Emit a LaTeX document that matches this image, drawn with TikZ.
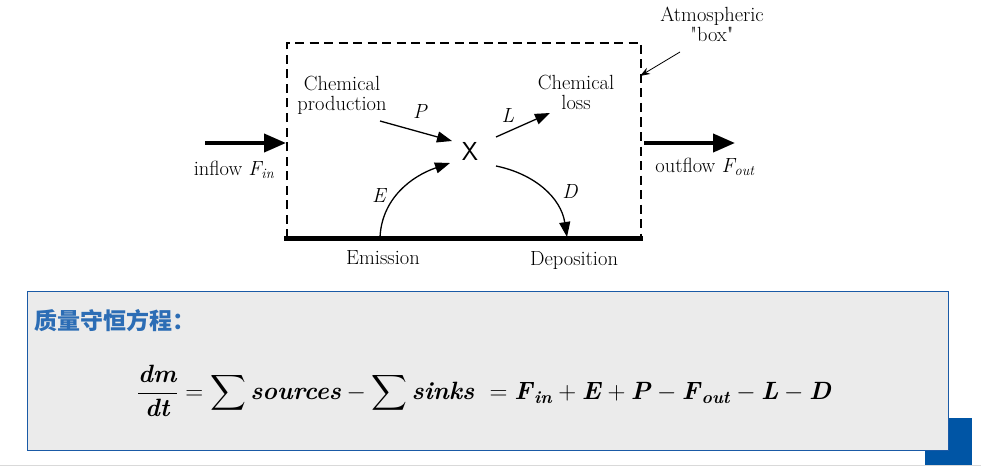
\documentclass[tikz,border=0pt]{standalone}
\usepackage{amsmath}
\usepackage{fontspec}
\newfontfamily\cjk{Noto Sans CJK SC}
\usetikzlibrary{arrows.meta}
\definecolor{boxblue}{HTML}{1A5AA6}
\definecolor{sqblue}{HTML}{0055A5}
\definecolor{panel}{HTML}{EBEBEB}
\definecolor{titleblue}{HTML}{2C6DB5}
\newcommand\bi[1]{\textbf{\textit{#1}}}
\tikzset{
  lbl/.style={font=\fontsize{20.5}{20}\selectfont, inner sep=0pt, align=center},
  ital/.style={font=\fontsize{20.5}{20}\selectfont\itshape, inner sep=0pt},
  bigarrow/.style={line width=4pt, -{Triangle[length=22pt,width=18pt]}},
  midarrow/.style={line width=1.3pt, -{Triangle[length=15pt,width=11pt]}},
}
\begin{document}
\begin{tikzpicture}[x=1pt,y=-1pt]
\useasboundingbox (0,0) rectangle (981,468);
% atmospheric box
\draw[line width=1.3pt, dash pattern=on 9pt off 5.5pt] (287,238) -- (287,43) -- (641,43) -- (641,238);
\draw[line width=5pt] (284,238) coordinate (gl) -- (643,238) coordinate (gr);
% labels
\node[lbl] (atm) at (712,24) {Atmospheric\\\textquotedbl box\textquotedbl};
\coordinate (atmfrom) at (680,52);
\coordinate (atmto) at (640,76);
\draw[line width=0.8pt, -{Stealth[length=10pt,width=7pt]}] (atmfrom) -- (atmto);

\node[lbl] (X) at (470,151) {\fontsize{26}{26}\selectfont\sffamily X};
\node[lbl] (prod) at (342,95) {Chemical\\production};
\node[lbl] (loss) at (576,92) {Chemical\\loss};
\node[ital] (P) at (420,111) {P};
\node[ital] (L) at (508,115) {L};
\node[ital] (E) at (379,196) {E};
\node[ital] (D) at (570,191) {D};
\node[lbl] (emis) at (383,258) {Emission};
\node[lbl] (depo) at (574,260) {Deposition};
\node[lbl] (inflow) at (234,170) {inflow \textit{F\textsubscript{in}}};
\node[lbl] (outflow) at (705,167) {outflow \textit{F\textsubscript{out}}};

% arrows
\coordinate (pstart) at (380,121);
\coordinate (pend) at (452,141);
\draw[midarrow] (pstart) -- (pend);
\coordinate (lstart) at (496,137);
\coordinate (lend) at (550,113);
\draw[midarrow] (lstart) -- (lend);
\coordinate (estart) at (380,237);
\coordinate (eend) at (450,163);
\draw[midarrow] (estart) .. controls (382,198) and (412,176) .. (eend);
\coordinate (dstart) at (496,166);
\coordinate (dend) at (567,237);
\draw[midarrow] (dstart) .. controls (535,174) and (561,198) .. (dend);

\coordinate (inS) at (205,143);
\coordinate (inE) at (286,143);
\draw[bigarrow] (inS) -- (inE);
\coordinate (outS) at (644,143);
\coordinate (outE) at (735,143);
\draw[bigarrow] (outS) -- (outE);

% bottom decorations
\draw[line width=1.2pt, color=black!15] (0,465.5) -- (981,465.5);
\fill[sqblue] (925,418) rectangle (972,465);
% panel
\draw[fill=panel, draw=boxblue, line width=0.8pt] (27,291) rectangle (948,450);
\node[anchor=west, inner sep=0pt, text=titleblue] (title) at (34,321) {\cjk\bfseries\fontsize{23}{23}\selectfont 质量守恒方程：};
\node[inner sep=0pt, font=\fontsize{25}{25}\selectfont] (formula) at (484,391) {$\displaystyle\frac{\bi{dm}}{\bi{dt}} = \sum\bi{sources} - \sum\bi{sinks} \mkern6mu = \bi{F}_{\bi{in}} + \bi{E} + \bi{P} - \bi{F}_{\bi{out}} - \bi{L} - \bi{D}$};
\end{tikzpicture}
\end{document}
